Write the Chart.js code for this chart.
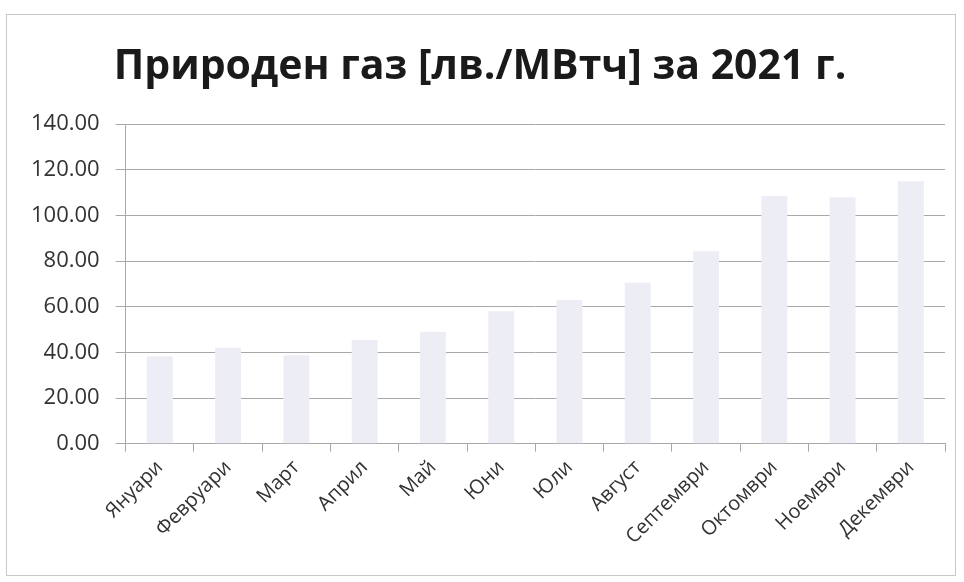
<!DOCTYPE html>
<html>
<head>
<meta charset="utf-8">
<script src="https://cdn.jsdelivr.net/npm/chart.js@4"></script>
<style>
  html, body { margin: 0; padding: 0; background: #fff; }
  #wrap {
    position: absolute; left: 6px; top: 14px; width: 950px; height: 562px;
    border: 1px solid #c8c8c8; box-sizing: border-box;
  }
  canvas { display: block; }
</style>
</head>
<body>
<div id="wrap"><canvas id="chart" width="948" height="560"></canvas></div>
<script>
// Monthly prices of natural gas, 2021
const months = ['Януари', 'Февруари', 'Март', 'Април', 'Май', 'Юни',
  'Юли', 'Август', 'Септември', 'Октомври', 'Ноември', 'Декември'];
const prices = [38.3, 42.0, 38.8, 45.4, 49.0, 58.0, 63.0, 70.5, 84.3, 108.5, 108.0, 115.0];

const barColor = 'rgba(237, 237, 245, 1)';
const gridColor = '#a8a8a8';

new Chart(document.getElementById('chart'), {
  type: 'bar',
  data: {
    labels: months,
    datasets: [{
      label: 'Природен газ',
      data: prices,
      backgroundColor: barColor,
      borderWidth: 0,
      categoryPercentage: 1,
      barPercentage: 0.38
    }]
  },
  options: {
    responsive: false,
    animation: false,
    layout: { padding: { left: 8, right: 10, top: 0, bottom: 22 } },
    plugins: {
      legend: { display: false },
      tooltip: { enabled: false },
      title: {
        display: true,
        text: 'Природен газ [лв./МВтч] за 2021 г.',
        color: '#1a1a1a',
        font: { family: 'Open Sans', size: 41, weight: 'bold' },
        padding: { top: 28, bottom: 32 }
      }
    },
    scales: {
      x: {
        offset: true,
        grid: {
          display: true,
          offset: true,
          drawOnChartArea: false,
          color: gridColor,
          tickLength: 8
        },
        border: { color: gridColor },
        ticks: {
          minRotation: 45,
          maxRotation: 45,
          color: '#333',
          padding: 4,
          font: { family: 'Open Sans', size: 20 }
        }
      },
      y: {
        min: 0,
        max: 140,
        grid: { color: gridColor, tickLength: 10 },
        border: { color: gridColor },
        ticks: {
          stepSize: 20,
          color: '#333',
          padding: 16,
          font: { family: 'Open Sans', size: 22 },
          callback: (value) => value.toFixed(2)
        }
      }
    }
  }
});
</script>
</body>
</html>
